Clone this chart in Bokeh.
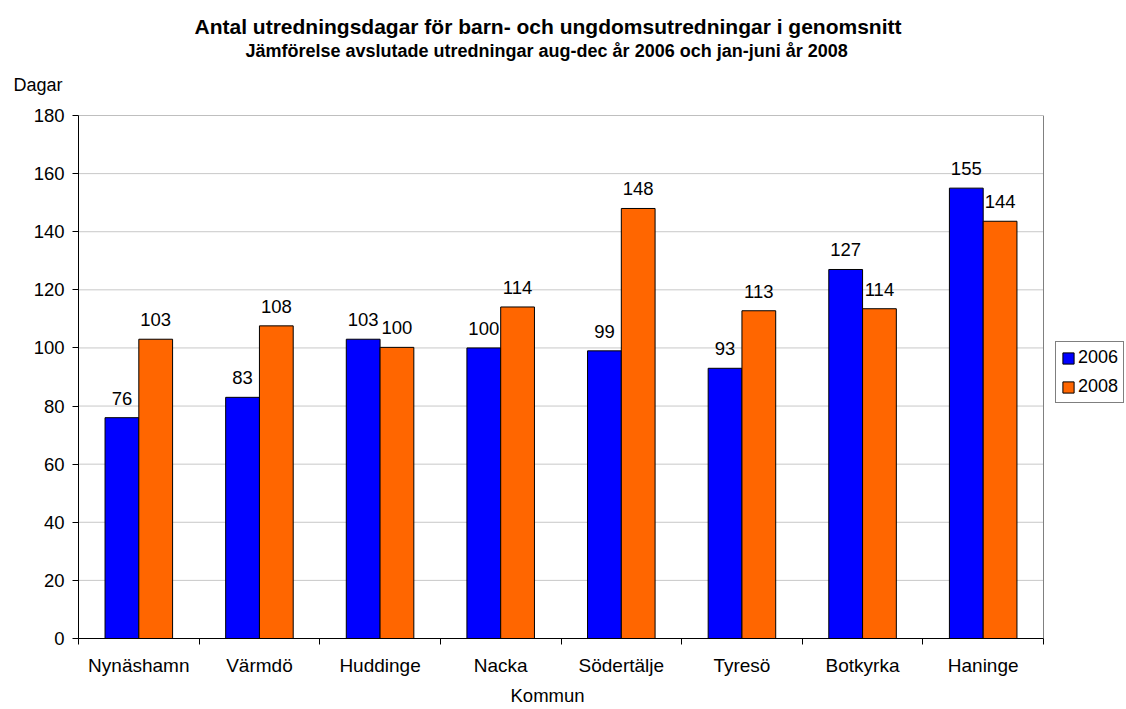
from bokeh.plotting import figure
from bokeh.models import Range1d, FixedTicker, Legend, LegendItem, ColumnDataSource, LabelSet, Title
from bokeh.core.properties import value
from bokeh.embed import file_html
from bokeh.resources import INLINE

categories = ["Nynäshamn", "Värmdö", "Huddinge", "Nacka", "Södertälje", "Tyresö", "Botkyrka", "Haninge"]
values_2006 = [76, 83, 103, 100, 99, 93, 127, 155]
values_2008 = [103.0, 107.6, 100.2, 114.1, 148.0, 112.8, 113.5, 143.6]
series_names = ["2006", "2008"]
y_ticks = [0, 20, 40, 60, 80, 100, 120, 140, 160, 180]

FONT = "Liberation Sans"
W, H = 1126, 709
n = len(categories)
y_max = y_ticks[-1]

# frame spans to the right edge so the legend (right of the plot area) can be drawn inside it
plot_w_px = 965
frame_w_px = W - 78
x_end = n * frame_w_px / plot_w_px

p = figure(width=W, height=H, output_backend="svg", toolbar_location=None,
           x_range=Range1d(0, x_end), y_range=Range1d(0, y_max),
           min_border_left=78, min_border_right=0, min_border_top=115, min_border_bottom=71)
p.outline_line_color = None

# grid lines and plot-area border (limited to the category span)
grid_src = ColumnDataSource(dict(y=y_ticks[1:-1], x0=[0] * (len(y_ticks) - 2), x1=[n] * (len(y_ticks) - 2)))
p.segment(x0="x0", x1="x1", y0="y", y1="y", source=grid_src, line_color="#c8c8c8", line_width=1)
p.line(x=[0, n, n], y=[y_max, y_max, 0], line_color="#808080", line_width=1)

bw = 0.28
x06 = [i + 0.5 - bw / 2 for i in range(n)]
x08 = [i + 0.5 + bw / 2 for i in range(n)]
src06 = ColumnDataSource(dict(x=x06, top=values_2006, lab=[f"{v:.0f}" for v in values_2006]))
src08 = ColumnDataSource(dict(x=x08, top=values_2008, lab=[f"{v:.0f}" for v in values_2008]))
r1 = p.vbar(x="x", top="top", width=bw, source=src06, fill_color="#0000FF", line_color="black", line_width=1)
r2 = p.vbar(x="x", top="top", width=bw, source=src08, fill_color="#FF6600", line_color="black", line_width=1)

for s in (src06, src08):
    ls = LabelSet(x="x", y="top", text="lab", source=s, text_align="center", text_baseline="alphabetic",
                  y_offset=13, text_font=value(FONT), text_font_size=value("18.5px"), text_color="black")
    p.add_layout(ls)

# axes
p.xaxis.bounds = (0, n)
p.xaxis.ticker = FixedTicker(ticks=[i + 0.5 for i in range(n)], minor_ticks=list(range(n + 1)))
p.xaxis.major_label_overrides = {i + 0.5: c for i, c in enumerate(categories)}
p.xaxis.major_tick_out = 0
p.xaxis.major_tick_in = 0
p.xaxis.minor_tick_out = 6
p.xaxis.minor_tick_in = 0
p.xaxis.minor_tick_line_color = "black"
p.xaxis.axis_line_color = "black"
p.xaxis.major_label_text_font = FONT
p.xaxis.major_label_text_font_size = "19px"
p.xaxis.major_label_text_color = "black"
p.xaxis.major_label_standoff = 10

p.yaxis.ticker = FixedTicker(ticks=y_ticks)
p.yaxis.major_tick_out = 6
p.yaxis.major_tick_in = 0
p.yaxis.minor_tick_out = 0
p.yaxis.minor_tick_in = 0
p.yaxis.axis_line_color = "black"
p.yaxis.major_tick_line_color = "black"
p.yaxis.major_label_text_font = FONT
p.yaxis.major_label_text_font_size = "18.5px"
p.yaxis.major_label_text_color = "black"
p.yaxis.major_label_standoff = 8

p.xgrid.grid_line_color = None
p.ygrid.grid_line_color = None

# titles: first added sits closest to the frame (left-aligned with pixel offsets from the frame's left edge)
p.add_layout(Title(text="Dagar", align="left", offset=-65, standoff=41, text_font=FONT,
                   text_font_size="18px", text_font_style="normal", text_color="black"), "above")
p.add_layout(Title(text="Jämförelse avslutade utredningar aug-dec år 2006 och jan-juni år 2008",
                   align="left", offset=167, standoff=-17, text_font=FONT,
                   text_font_size="18px", text_font_style="bold", text_color="black"), "above")
p.add_layout(Title(text="Antal utredningsdagar för barn- och ungdomsutredningar i genomsnitt",
                   align="left", offset=116, standoff=20, text_font=FONT,
                   text_font_size="21px", text_font_style="bold", text_color="black"), "above")
p.add_layout(Title(text="Kommun", align="left", offset=432, standoff=8,
                   text_font=FONT, text_font_size="18.5px", text_font_style="normal",
                   text_color="black"), "below")

legend = Legend(items=[LegendItem(label=series_names[0], renderers=[r1]),
                       LegendItem(label=series_names[1], renderers=[r2])],
                location=(977, 235), border_line_color="black", border_line_width=1,
                label_text_font=FONT, label_text_font_size="18px", glyph_width=14, glyph_height=14,
                label_height=20, padding=5, spacing=8, margin=0, label_standoff=3,
                background_fill_color="white", label_text_color="black")
p.add_layout(legend, "center")

open("out.html", "w").write(file_html(p, INLINE))
